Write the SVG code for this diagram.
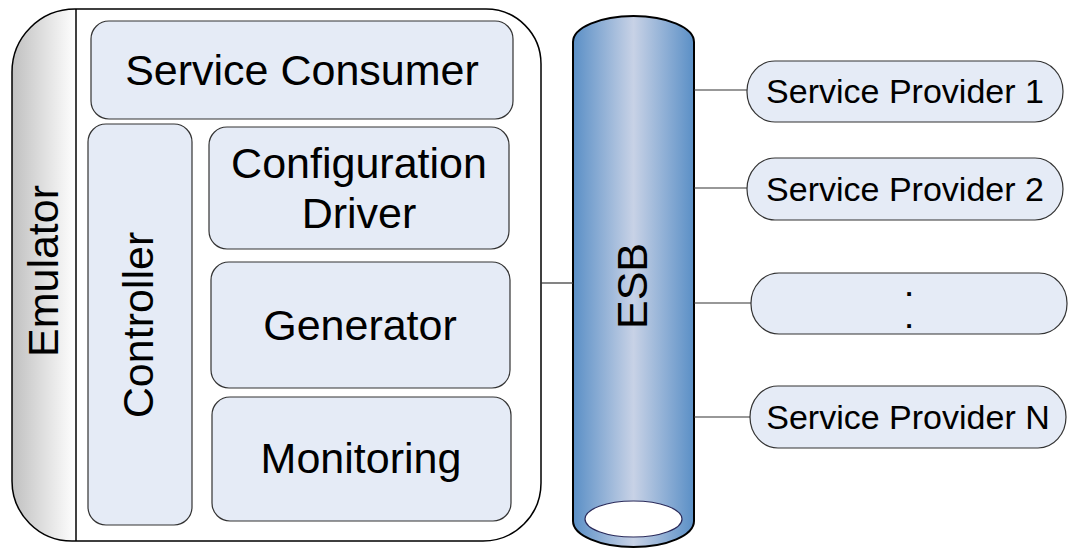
<svg xmlns="http://www.w3.org/2000/svg" width="1069" height="548" viewBox="0 0 1069 548">
  <defs>
    <linearGradient id="gStrip" x1="0" y1="0" x2="1" y2="0">
      <stop offset="0" stop-color="#c0c0c0"/>
      <stop offset="1" stop-color="#ffffff"/>
    </linearGradient>
    <linearGradient id="gBus" x1="0" y1="0" x2="1" y2="0">
      <stop offset="0" stop-color="#5a8fc6"/>
      <stop offset="0.5" stop-color="#c8d2e6"/>
      <stop offset="1" stop-color="#5a8fc6"/>
    </linearGradient>
    <clipPath id="outerClip">
      <path d="M75,9 H486 A55,55 0 0 1 541,64 V483 A58,58 0 0 1 483,541 H72 A60,60 0 0 1 12,481 V72 A63,63 0 0 1 75,9 Z"/>
    </clipPath>
  </defs>
  <style>
    .box { fill: #e5ebf6; stroke: #333333; stroke-width: 1.2; }
    .big { font-family: "Liberation Sans", Arial, sans-serif; font-size: 43px; fill: #000000; text-anchor: middle; }
    .small { font-family: "Liberation Sans", Arial, sans-serif; font-size: 34px; fill: #000000; text-anchor: middle; }
    .dot { font-family: "Liberation Sans", Arial, sans-serif; font-size: 26px; fill: #000000; text-anchor: middle; font-weight: bold; }
    .wire { stroke: #333333; stroke-width: 1.2; fill: none; }
  </style>

  <!-- Emulator container -->
  <g id="emulator">
    <path d="M75,9 H486 A55,55 0 0 1 541,64 V483 A58,58 0 0 1 483,541 H72 A60,60 0 0 1 12,481 V72 A63,63 0 0 1 75,9 Z" fill="#ffffff"/>
    <rect x="12" y="9" width="64" height="532" fill="url(#gStrip)" clip-path="url(#outerClip)"/>
    <line x1="76" y1="9" x2="76" y2="541" stroke="#000000" stroke-width="1.5"/>
    <path d="M75,9 H486 A55,55 0 0 1 541,64 V483 A58,58 0 0 1 483,541 H72 A60,60 0 0 1 12,481 V72 A63,63 0 0 1 75,9 Z" fill="none" stroke="#000000" stroke-width="1.5"/>
    <text class="big" transform="translate(58,271) rotate(-90)">Emulator</text>
  </g>

  <g id="service-consumer">
    <rect class="box" x="91" y="21" width="422" height="98" rx="18"/>
    <text class="big" x="302" y="85">Service Consumer</text>
  </g>

  <g id="controller">
    <rect class="box" x="88" y="124" width="104" height="401" rx="18"/>
    <text class="big" transform="translate(153,325) rotate(-90)">Controller</text>
  </g>

  <g id="configuration-driver">
    <rect class="box" x="209" y="127" width="300" height="122" rx="18"/>
    <text class="big" x="359" y="178">Configuration</text>
    <text class="big" x="359" y="228">Driver</text>
  </g>

  <g id="generator">
    <rect class="box" x="211" y="262" width="299" height="126" rx="18"/>
    <text class="big" x="360" y="340">Generator</text>
  </g>

  <g id="monitoring">
    <rect class="box" x="212" y="397" width="299" height="124" rx="18"/>
    <text class="big" x="361" y="473">Monitoring</text>
  </g>

  <!-- Enterprise service bus drawn as a cylinder -->
  <g id="esb">
    <path d="M573,42 A60.5,26 0 0 1 694,42 V521 A60.5,26 0 0 1 573,521 Z" fill="url(#gBus)" stroke="#000000" stroke-width="2"/>
    <ellipse cx="633.5" cy="519" rx="48.5" ry="18" fill="#ffffff" stroke="#2a2a5a" stroke-width="1.2"/>
    <text class="big" transform="translate(647,286) rotate(-90)">ESB</text>
  </g>

  <g id="provider-1">
    <rect class="box" x="747" y="61" width="316" height="61" rx="28" ry="30"/>
    <text class="small" x="905" y="103">Service Provider 1</text>
  </g>

  <g id="provider-2">
    <rect class="box" x="747" y="158" width="316" height="62" rx="28" ry="31"/>
    <text class="small" x="905" y="201">Service Provider 2</text>
  </g>

  <g id="provider-more">
    <rect class="box" x="751" y="273" width="316" height="61" rx="28" ry="30"/>
    <text class="dot" x="909" y="296">.</text>
    <text class="dot" x="909" y="328">.</text>
  </g>

  <g id="provider-n">
    <rect class="box" x="750" y="386" width="316" height="62" rx="28" ry="31"/>
    <text class="small" x="908" y="429">Service Provider N</text>
  </g>

  <g id="connectors">
    <line class="wire" x1="541" y1="283" x2="573" y2="283"/>
    <line class="wire" x1="694" y1="90" x2="747" y2="90"/>
    <line class="wire" x1="694" y1="188" x2="747" y2="188"/>
    <line class="wire" x1="694" y1="303" x2="751" y2="303"/>
    <line class="wire" x1="694" y1="417" x2="750" y2="417"/>
  </g>
</svg>
